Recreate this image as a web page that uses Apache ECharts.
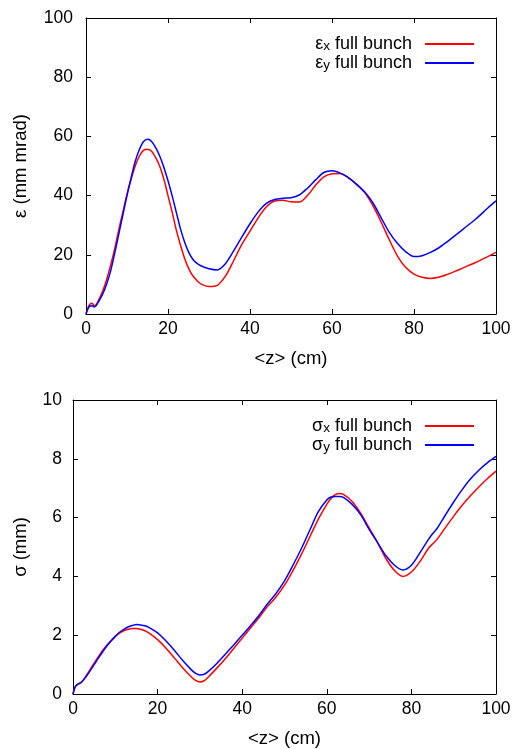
<!DOCTYPE html>
<html>
<head>
<meta charset="utf-8">
<script src="https://cdn.jsdelivr.net/npm/echarts@6/dist/echarts.min.js"></script>
<style>html,body{margin:0;padding:0;background:#fff}#c{width:529px;height:749px}</style>
</head>
<body>
<div id="c"></div>
<script>
// ---- data: emittance (top panel) ----
const zEps = [0,0.5,1,1.5,2,2.5,3,4,5,6,7,8,9,10,11,12,13,14,15,16,17,18,19,20,21,22,23,24,25,26,27,28,30,32,34,36,38,40,42,44,46,48,50,52,54,56,58,60,62,64,66,68,70,72,74,76,78,80,82,84,86,88,90,92,95,98,100];
const epsX = [0,2.2,3.4,3.6,2.8,3.2,4.5,7.5,11.5,16.5,22,28.5,34.5,40.5,45.5,50,53.3,55.3,55.7,55,52.8,49.8,45.5,40,34.5,28.5,23.5,19,15.5,13,11.4,10.2,9.3,9.7,12.8,18,23.5,28,32.5,36.2,38.2,38.4,37.9,37.8,40,43.5,46.3,47.4,47.5,46,43.8,41,36.5,31,25,19.5,15.7,13.5,12.4,12,12.4,13.3,14.4,15.6,17.4,19.4,20.8];
const epsY = [0,1.8,2.7,2.8,2.4,2.9,4,6.5,10,14.5,20.5,27,33.5,40,46,51.5,55.5,58.2,59,58.3,56.2,53.3,49.5,45,40,34.5,29,24.5,21,18.6,17.2,16.3,15.3,14.9,17,21.3,26,30.5,34.5,37.4,38.7,39.1,39.3,40.2,42.5,45.3,47.8,48.4,47.6,46.1,43.8,41.2,37.5,32.5,27.5,23.8,21,19.4,19.7,20.8,22.3,24.3,26.5,28.7,32,35.8,38.2];

// ---- data: beam size (bottom panel) ----
const zSig = [0,0.5,1,2,3,4,5,6,7,8,9,10,11,12,13,14,15,16,17,18,20,22,24,26,28,29,30,31,32,34,36,38,40,42,44,46,48,50,52,54,56,58,60,61,62,63,64,66,68,70,72,74,76,78,80,82,84,85,86,88,90,92,94,96,98,100];
const sigX = [0,0.24,0.32,0.4,0.6,0.82,1.05,1.27,1.48,1.66,1.82,1.96,2.07,2.15,2.2,2.23,2.23,2.2,2.15,2.07,1.85,1.56,1.22,0.88,0.58,0.46,0.41,0.45,0.58,0.88,1.2,1.55,1.9,2.25,2.6,2.98,3.3,3.7,4.2,4.75,5.35,5.95,6.45,6.65,6.78,6.82,6.78,6.55,6.15,5.65,5.15,4.6,4.2,4.0,4.15,4.5,4.95,5.1,5.25,5.65,6.05,6.42,6.75,7.05,7.33,7.58];
const sigY = [0,0.24,0.32,0.4,0.57,0.78,1.0,1.22,1.43,1.63,1.8,1.96,2.1,2.2,2.28,2.33,2.36,2.35,2.32,2.26,2.08,1.8,1.48,1.13,0.82,0.7,0.65,0.67,0.77,1.04,1.35,1.67,2.0,2.33,2.68,3.07,3.42,3.85,4.38,4.95,5.58,6.2,6.6,6.7,6.72,6.72,6.68,6.45,6.1,5.6,5.15,4.7,4.38,4.22,4.38,4.8,5.25,5.45,5.62,6.08,6.53,6.95,7.32,7.62,7.87,8.08];

const xTicks = [0,20,40,60,80,100];
const epsTicks = [0,20,40,60,80,100];
const sigTicks = [0,2,4,6,8,10];

const FONT = '"Liberation Sans", Arial, Helvetica, sans-serif';
const TICK_FS = 17.5, NAME_FS = 18.5;
const zip = (a, b) => a.map((v, i) => [v, b[i]]);

function axisBase(extra) {
  return Object.assign({
    type: 'value',
    axisLine: { show: true, onZero: false, lineStyle: { color: '#000', width: 1 } },
    axisTick: { show: true, inside: true, length: 5, lineStyle: { color: '#000', width: 1 } },
    splitLine: { show: false },
    axisLabel: { color: '#000', fontSize: TICK_FS, fontFamily: FONT },
    nameTextStyle: { color: '#000', fontSize: NAME_FS, fontFamily: FONT }
  }, extra);
}

function xAxes(grid, name) {
  return [
    axisBase({ gridIndex: grid, position: 'bottom', min: xTicks[0], max: xTicks[xTicks.length-1], interval: xTicks[1]-xTicks[0],
      name: name, nameLocation: 'middle', nameGap: 35,
      axisLabel: { color: '#000', fontSize: TICK_FS, fontFamily: FONT, margin: 6 } }),
    axisBase({ gridIndex: grid, position: 'top', min: xTicks[0], max: xTicks[xTicks.length-1], interval: xTicks[1]-xTicks[0],
      axisLabel: { show: false } })
  ];
}
function yAxes(grid, ticks, name, gap, margin) {
  return [
    axisBase({ gridIndex: grid, position: 'left', min: ticks[0], max: ticks[ticks.length-1], interval: ticks[1]-ticks[0],
      name: name, nameLocation: 'middle', nameGap: gap,
      axisLabel: { color: '#000', fontSize: TICK_FS, fontFamily: FONT, margin: margin } }),
    axisBase({ gridIndex: grid, position: 'right', min: ticks[0], max: ticks[ticks.length-1], interval: ticks[1]-ticks[0],
      axisLabel: { show: false } })
  ];
}

const legendRich = {
  a: { fontSize: 18, fontFamily: FONT, color: '#000', lineHeight: 18, verticalAlign: 'middle' },
  s: { fontSize: 13.5, fontFamily: FONT, color: '#000', lineHeight: 8, verticalAlign: 'bottom' },
  e: { fontSize: 18, fontFamily: FONT, color: '#000', lineHeight: 18, verticalAlign: 'middle', padding: [0, 8, 0, 0] }
};
function legendFmt(name) {
  const sym = name.charAt(0), sub = name.charAt(1);
  return '{a|' + sym + '}{s|' + sub + '}{e| full bunch}';
}
function legend(names, top) {
  return {
    data: names, orient: 'vertical', align: 'right', right: 55, top: top,
    itemWidth: 49, itemHeight: 2, itemGap: 1, icon: 'rect', padding: 0,
    formatter: legendFmt, textStyle: { rich: legendRich }
  };
}

function line(name, xi, yi, data, color) {
  return { name: name, type: 'line', xAxisIndex: xi, yAxisIndex: yi, data: data,
    showSymbol: false, smooth: 0.3, clip: true, color: color,
    lineStyle: { color: color, width: 1.5 } };
}

const chart = echarts.init(document.getElementById('c'), null, { renderer: 'canvas' });
chart.setOption({
  animation: false,
  backgroundColor: '#fff',
  grid: [
    { left: 86, top: 18, width: 410, height: 296 },
    { left: 73, top: 400, width: 423, height: 296 }
  ],
  xAxis: [].concat(xAxes(0, '<z> (cm)'), xAxes(1, '<z> (cm)')),
  yAxis: [].concat(yAxes(0, epsTicks, 'ε (mm mrad)', 56, 13), yAxes(1, sigTicks, 'σ (mm)', 43, 11)),
  legend: [ legend(['εx', 'εy'], 35), legend(['σx', 'σy'], 417) ],
  series: [
    line('εx', 0, 0, zip(zEps, epsX), '#ff0000'),
    line('εy', 0, 0, zip(zEps, epsY), '#0000ff'),
    line('σx', 2, 2, zip(zSig, sigX), '#ff0000'),
    line('σy', 2, 2, zip(zSig, sigY), '#0000ff')
  ]
});
</script>
</body>
</html>
